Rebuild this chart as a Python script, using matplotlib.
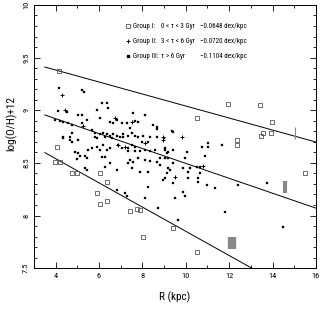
import numpy as np
import matplotlib
matplotlib.use("Agg")
import matplotlib.pyplot as plt
from matplotlib import font_manager
from matplotlib.ticker import MultipleLocator

# pick a narrow face if one is around
have = {f.name for f in font_manager.fontManager.ttflist}
narrow = [n for n in ['Liberation Sans Narrow', 'Roboto Condensed', 'DejaVu Sans Condensed'] if n in have]
plt.rcParams['font.family'] = narrow + ['Liberation Sans', 'DejaVu Sans']
plt.rcParams['font.stretch'] = 'condensed'

# Group I: 0 < tau < 3 Gyr (open squares)
g1_R = [4.15, 11.94, 13.41, 10.51, 13.97, 12.35, 12.35, 13.46, 13.55, 13.95, 15.49,
        3.97, 4.20, 4.06, 4.75, 4.98, 6.04, 6.36, 5.90, 6.04, 6.36, 7.42, 7.75, 7.88,
        8.02, 9.41, 10.51]
g1_OH = [9.37, 9.06, 9.05, 8.93, 8.89, 8.72, 8.67, 8.76, 8.78, 8.78, 8.40,
         8.51, 8.51, 8.65, 8.40, 8.40, 8.40, 8.32, 8.21, 8.11, 8.14, 8.04, 8.06, 8.05,
         7.80, 7.88, 7.65]

# Group II: 3 < tau < 6 Gyr (plus signs)
g2_R = [4.29, 8.94, 8.94, 7.52, 4.43, 6.87, 8.12, 9.82, 5.26, 10.79, 7.19, 9.50, 6.73]
g2_OH = [9.14, 8.75, 8.72, 8.89, 9.00, 8.67, 8.69, 8.75, 8.85, 8.47, 8.65, 8.37, 8.93]

# Group III: tau > 6 Gyr (filled dots)
g3_R = [4.15, 5.21, 5.30, 6.13, 6.36, 4.11, 4.52, 6.41, 5.90, 5.03, 5.21, 5.44, 6.04,
        6.82, 6.50, 6.64, 7.06, 7.29, 3.97, 4.20, 4.34, 4.57, 4.75, 5.21, 5.67,
        5.81, 6.04, 6.18, 6.36, 6.50, 6.64, 6.82, 6.96, 7.10, 4.75, 4.66, 4.34,
        7.56, 8.12, 7.65, 7.79, 7.42, 8.48, 8.67, 8.67, 7.33, 7.52, 7.65, 7.79, 8.02,
        8.35, 8.67, 8.99, 9.36, 9.41, 10.74, 11.02, 11.02, 11.66, 9.18, 9.41, 10.05,
        9.04, 7.33, 7.52, 7.65, 7.98, 8.25, 7.33, 7.65, 7.88, 8.12, 8.35, 8.58,
        9.04, 9.13, 7.42, 7.79, 8.12, 8.35, 8.81, 9.04, 9.18, 9.96, 10.88, 7.33,
        7.56, 9.41, 9.87, 10.19, 10.51, 10.65, 7.52, 8.67, 8.81, 9.18, 9.27, 7.88,
        8.25, 9.13, 9.04, 8.94, 10.10, 10.10, 10.65, 10.56, 10.56, 9.41, 10.97, 11.34,
        8.25, 9.87, 9.96, 9.50, 8.12, 8.71, 13.74, 12.40, 11.80, 14.47, 9.64,
        4.34, 4.66, 4.75, 5.03, 5.81, 5.90, 6.27, 6.59, 7.10, 5.49, 5.67, 5.90,
        6.04, 6.18, 6.36, 6.50, 6.87, 7.06, 4.89, 5.03, 5.12, 5.35, 5.44, 6.13,
        6.27, 4.98, 5.35, 5.44, 6.27, 6.50, 6.82, 6.85, 7.20, 7.30]
g3_OH = [9.21, 9.19, 9.17, 9.07, 9.07, 8.99, 8.98, 9.02, 9.00, 8.95, 8.95, 8.91, 8.93,
         8.91, 8.89, 8.88, 8.88, 8.88, 8.91, 8.90, 8.89, 8.88, 8.86, 8.88, 8.81,
         8.78, 8.77, 8.78, 8.77, 8.76, 8.77, 8.76, 8.75, 8.77, 8.78, 8.75, 8.75,
         8.97, 8.95, 8.90, 8.89, 8.83, 8.86, 8.84, 8.82, 8.76, 8.78, 8.76, 8.75, 8.76,
         8.75, 8.75, 8.74, 8.80, 8.79, 8.65, 8.69, 8.65, 8.67, 8.60, 8.62, 8.60,
         8.64, 8.64, 8.67, 8.65, 8.70, 8.70, 8.61, 8.61, 8.61, 8.62, 8.61, 8.62,
         8.62, 8.59, 8.53, 8.55, 8.53, 8.52, 8.55, 8.55, 8.55, 8.55, 8.57, 8.50,
         8.51, 8.50, 8.45, 8.45, 8.46, 8.46, 8.45, 8.51, 8.48, 8.45, 8.43, 8.41,
         8.41, 8.40, 8.36, 8.34, 8.41, 8.36, 8.40, 8.36, 8.32, 8.31, 8.29, 8.26,
         8.27, 8.22, 8.19, 8.17, 8.17, 8.07, 8.31, 8.29, 8.03, 7.89, 7.96,
         8.74, 8.72, 8.70, 8.72, 8.75, 8.74, 8.75, 8.74, 8.75, 8.62, 8.64, 8.65,
         8.62, 8.67, 8.62, 8.64, 8.67, 8.64, 8.60, 8.59, 8.57, 8.57, 8.55, 8.56,
         8.56, 8.54, 8.45, 8.43, 8.46, 8.50, 8.43, 8.24, 8.21, 8.19]

# grey bars
bar_R = [14.57, 12.12, 15.03]
bar_OH = [8.27, 7.74, 8.78]
bar_w = [3.0, 6.0, 0.8]

# fitted gradients (intercept, slope)
fit_a = [9.61, 9.203, 9.00]
fit_b = [-0.057, -0.0708, -0.115]

legend_names = ['Group I:', 'Group II:', 'Group III:']
legend_ranges = ['0 < \u03c4 < 3 Gyr', '3 < \u03c4 < 6 Gyr', '\u03c4 > 6 Gyr']
legend_grad = ['\u22120.0648 dex/kpc', '\u22120.0720 dex/kpc', '\u22120.1104 dex/kpc']

fig = plt.figure(figsize=(3.27, 3.10), dpi=100)
ax = fig.add_axes([0.104, 0.135, 0.862, 0.849])

rr = np.array([3.5, 16.0])
for a, b in zip(fit_a, fit_b):
    ax.plot(rr, a + b * rr, color='k', lw=0.7)

ax.plot(g1_R, g1_OH, ls='none', marker='s', ms=2.4, mfc='none', mec='#555555', mew=0.6)
ax.plot(g2_R, g2_OH, ls='none', marker='+', ms=3, mec='k', mew=0.7)
ax.plot(g3_R, g3_OH, ls='none', marker='s', ms=1.7, mfc='k', mec='k', mew=0.2)
for r, o, w in zip(bar_R, bar_OH, bar_w):
    ax.plot([r], [o], ls='none', marker='|', ms=8, mew=w, mec='#888888')

# legend drawn by hand
markers = [dict(marker='s', ms=2.4, mfc='none', mec='#555555', mew=0.6),
           dict(marker='+', ms=3, mec='k', mew=0.7),
           dict(marker='s', ms=1.7, mfc='k', mec='k')]
ys = [0.920, 0.863, 0.806]
for y, mk, nm, rg, gd in zip(ys, markers, legend_names, legend_ranges, legend_grad):
    ax.plot([0.333], [y], ls='none', transform=ax.transAxes, **mk)
    ax.text(0.350, y, nm, transform=ax.transAxes, fontsize=5, va='center')
    ax.text(0.450, y, rg, transform=ax.transAxes, fontsize=5, va='center')
    ax.text(0.590, y, gd, transform=ax.transAxes, fontsize=5, va='center')

ax.set_xlim(3, 16)
ax.set_ylim(7.5, 10)
ax.xaxis.set_major_locator(MultipleLocator(2))
ax.xaxis.set_minor_locator(MultipleLocator(1))
ax.yaxis.set_major_locator(MultipleLocator(0.5))
ax.yaxis.set_minor_locator(MultipleLocator(0.1))
ax.tick_params(which='both', direction='in', top=True, right=True, width=0.6, labelsize=6)
ax.tick_params(which='major', length=4)
ax.tick_params(which='minor', length=2)
ax.set_xticks([4, 6, 8, 10, 12, 14, 16])
ax.set_yticks([7.5, 8, 8.5, 9, 9.5, 10])
ax.set_yticklabels(['7.5', '8', '8.5', '9', '9.5', '10'], rotation=90, va='center')
for s in ax.spines.values():
    s.set_linewidth(0.7)

ax.set_xlabel('R (kpc)', fontsize=8, labelpad=9)
ax.set_ylabel('log(O/H)+12', fontsize=8)
ax.yaxis.set_label_coords(-0.06, 0.55)

fig.savefig('out.png', dpi=100)
